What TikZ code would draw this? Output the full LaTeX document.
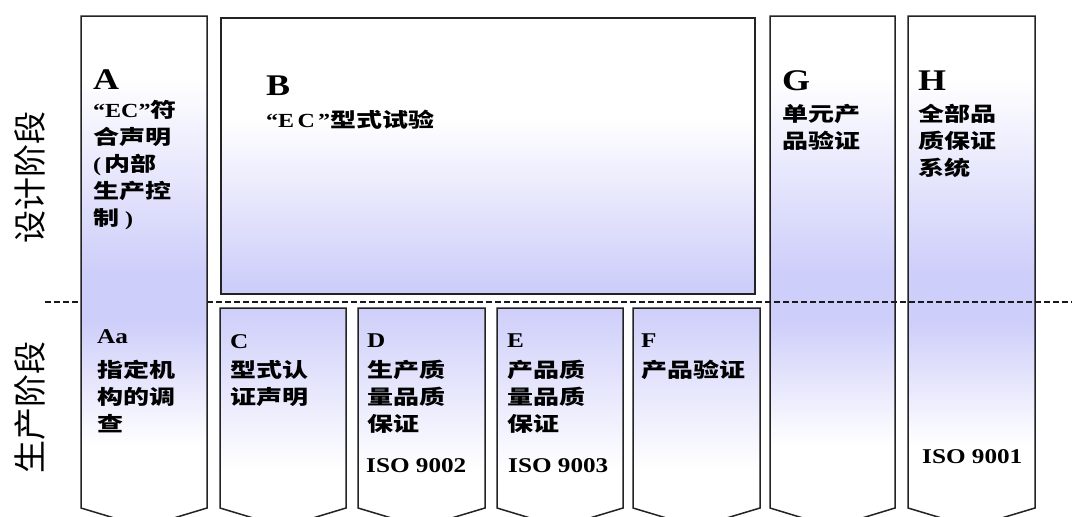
\documentclass[tikz,border=0pt]{standalone}
\usepackage{fontspec}
\setmainfont{Liberation Serif}
\newfontfamily\latf{Liberation Serif}[FakeStretch=1.2]
\newfontfamily\cjkf{Noto Sans CJK SC}[FakeStretch=1.3]
\newfontfamily\sidef{Noto Sans CJK SC}
\definecolor{lav}{RGB}{206,206,250}
\definecolor{edge}{RGB}{35,35,35}
\pgfdeclareverticalshading{tallsh}{100bp}{color(0bp)=(white); color(33bp)=(white); color(45bp)=(lav); color(50bp)=(lav); color(69bp)=(white); color(100bp)=(white)}
\pgfdeclareverticalshading{bsh}{100bp}{color(0bp)=(lav); color(27bp)=(lav); color(57bp)=(white); color(100bp)=(white)}
\pgfdeclareverticalshading{smallsh}{100bp}{color(0bp)=(white); color(38bp)=(white); color(75bp)=(lav); color(100bp)=(lav)}
\newcommand\ecq{{\latf\bfseries “EC”}}
\tikzset{
  boxline/.style={draw=edge, line width=1.5pt, line join=miter},
  bigletter/.style={anchor=base west, inner sep=0pt, font=\latf\bfseries\fontsize{30}{30}\selectfont},
  smallletter/.style={anchor=base west, inner sep=0pt, font=\latf\bfseries\fontsize{21}{21}\selectfont},
  desc/.style={anchor=north west, inner sep=0pt, align=left, font=\cjkf\bfseries\fontsize{20}{27}\selectfont},
  sidelabel/.style={rotate=90, inner sep=0pt, font=\sidef\fontsize{33}{33}\selectfont},
  phase/.style={draw=black!90, line width=1.2pt, dash pattern=on 5.5pt off 3.5pt},
}
\begin{document}
\begin{tikzpicture}[x=1pt,y=-1pt]
\useasboundingbox (0,0) rectangle (1072,517);
\fill[white] (0,0) rectangle (1072,517);
\clip (0,0) rectangle (1072,517);
% B
\shadedraw[boxline, shading=bsh] (221,18) rectangle (755,294);
% C D E F
\shadedraw[boxline, shading=smallsh] (220,308) -- (346,308) -- (346,508) -- (283,527) -- (220,508) -- cycle;
\shadedraw[boxline, shading=smallsh] (358,308) -- (485,308) -- (485,508) -- (421.5,527) -- (358,508) -- cycle;
\shadedraw[boxline, shading=smallsh] (497,308) -- (623,308) -- (623,508) -- (560,527) -- (497,508) -- cycle;
\shadedraw[boxline, shading=smallsh] (633,308) -- (760,308) -- (760,508) -- (696.5,527) -- (633,508) -- cycle;
% G H
\shadedraw[boxline, shading=tallsh] (770,16) -- (895,16) -- (895,508) -- (832.5,527) -- (770,508) -- cycle;
\shadedraw[boxline, shading=tallsh] (908,16) -- (1035,16) -- (1035,508) -- (971.5,527) -- (908,508) -- cycle;
% phase line
\coordinate (pl) at (45,302);
\coordinate (pr) at (1072,302);
\draw[phase] (pl) -- (pr);
% A
\shadedraw[boxline, shading=tallsh] (81,16) -- (207,16) -- (207,508) -- (144,527) -- (81,508) -- cycle;

% side labels
\node[sidelabel] (design) at (30,177) {设计阶段};
\node[sidelabel] (produce) at (30,407) {生产阶段};

% texts
\node[bigletter] (lA) at (93,89) {A};
\node[desc] (tA) at (93,100) {\ecq 符\\合声明\\{\latf\bfseries (\,}内部\\生产控\\制{\latf\bfseries\ )}};
\node[bigletter] (lB) at (266,95) {B};
\node[desc] (tB) at (266,110) {{\latf\bfseries “E\,C\,”}型式试验};
\node[bigletter] (lG) at (782,90) {G};
\node[desc] (tG) at (782,104) {单元产\\品验证};
\node[bigletter] (lH) at (918,90) {H};
\node[desc] (tH) at (918,104) {全部品\\质保证\\系统};
\node[smallletter] (lAa) at (97,343) {Aa};
\node[desc] (tAa) at (97,360) {指定机\\构的调\\查};
\node[smallletter] (lC) at (230,348) {C};
\node[desc] (tC) at (230,360) {型式认\\证声明};
\node[smallletter] (lD) at (367,347) {D};
\node[desc] (tD) at (367,360) {生产质\\量品质\\保证};
\node[smallletter] (iD) at (366,472) {ISO 9002};
\node[smallletter] (lE) at (507,347) {E};
\node[desc] (tE) at (507,360) {产品质\\量品质\\保证};
\node[smallletter] (iE) at (508,472) {ISO 9003};
\node[smallletter] (lF) at (641,347) {F};
\node[desc] (tF) at (641,360) {产品验证};
\node[smallletter] (iH) at (922,463) {ISO 9001};
\end{tikzpicture}
\end{document}
